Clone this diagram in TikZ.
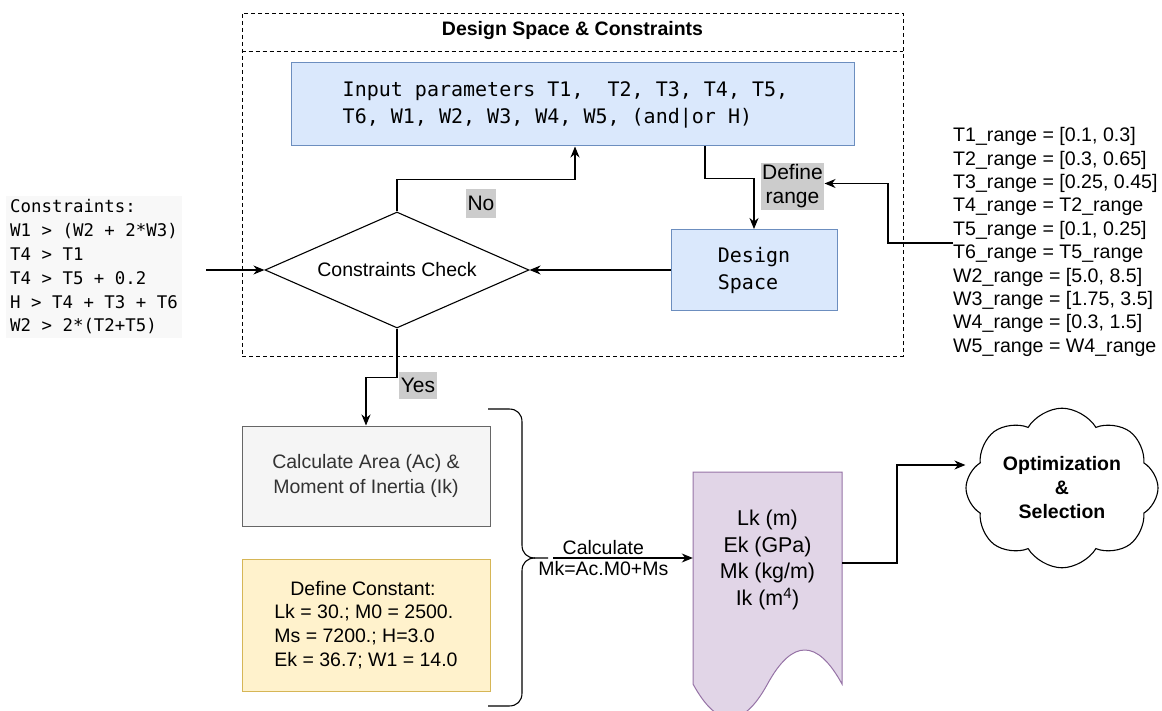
\documentclass[tikz,border=0pt]{standalone}
\usepackage{fontspec}
\setmainfont{Liberation Sans}
\setmonofont{DejaVu Sans Mono}
\usetikzlibrary{arrows.meta,shapes.geometric,shapes.symbols}

\newcommand\setfs[2]{\fontsize{#1}{#2}\selectfont}

\definecolor{blueFill}{HTML}{DAE8FC}
\definecolor{blueLine}{HTML}{6C8EBF}
\definecolor{grayFill}{HTML}{F5F5F5}
\definecolor{grayLine}{HTML}{666666}
\definecolor{grayText}{HTML}{333333}
\definecolor{yellowFill}{HTML}{FFF2CC}
\definecolor{yellowLine}{HTML}{D6B656}
\definecolor{purpleFill}{HTML}{E1D5E7}
\definecolor{purpleLine}{HTML}{9673A6}
\definecolor{labelBg}{HTML}{CCCCCC}
\definecolor{codeBg}{HTML}{F8F8F8}

\tikzset{
  sans/.style={font=\setfs{19.5}{24}},
  conn/.style={draw, line width=1.1pt},
  arr/.style={conn, -{Stealth[length=11pt,width=9pt,inset=3.5pt]}},
  bluebox/.style={draw=blueLine, fill=blueFill, line width=1pt, inner sep=0pt,
                  font=\ttfamily\setfs{20}{27}, align=left},
  lab/.style={fill=labelBg, inner xsep=1.5pt, inner ysep=2pt,
              font=\setfs{21}{24}, align=center},
  dashbox/.style={draw, dash pattern=on 4pt off 3pt, line width=0.9pt},
}

\begin{document}
\begin{tikzpicture}[x=1pt, y=-1pt]
\useasboundingbox (0,0) rectangle (1162,711);

% container for the design space
\node[dashbox, minimum width=661pt, minimum height=343pt, inner sep=0pt] (dsc) at (572.5,184.5) {};
\draw[dashbox] ([yshift=-39pt]dsc.north west) -- ([yshift=-39pt]dsc.north east);
\node[font=\bfseries\setfs{19.5}{24}] (title) at (572.5,31) {Design Space \& Constraints};

% input parameters and design space
\node[bluebox, minimum width=563pt, minimum height=83pt] (inp) at (572.5,104.5)
  {Input parameters T1,\ \ T2, T3, T4, T5,\hspace*{14pt}\\T6, W1, W2, W3, W4, W5, (and|or H)};
\node[bluebox, minimum width=166pt, minimum height=81pt] (ds) at (754,270)
  {Design\\Space};

% constraints check
\node[diamond, draw, line width=1.1pt, minimum width=264pt, minimum height=116pt,
      aspect=2.28, inner sep=0pt, sans] (dia) at (397,270) {Constraints Check};

% constraint list
\node[fill=codeBg, inner sep=4pt, align=left, anchor=west,
      font=\ttfamily\setfs{17.4}{23.8}] (cons) at (6,267)
  {Constraints:\\W1 > (W2 + 2*W3)\\T4 > T1\\T4 > T5 + 0.2\\H > T4 + T3 + T6\\W2 > 2*(T2+T5)};
\coordinate (consOut) at (206,270);

% parameter ranges
\node[font=\setfs{19.6}{23.4}, align=left, anchor=west, inner sep=0pt] (rng) at (953,242)
  {T1\_range = [0.1, 0.3]\\T2\_range = [0.3, 0.65]\\T3\_range = [0.25, 0.45]\\
   T4\_range = T2\_range\\T5\_range = [0.1, 0.25]\\T6\_range = T5\_range\\
   W2\_range = [5.0, 8.5]\\W3\_range = [1.75, 3.5]\\W4\_range = [0.3, 1.5]\\
   W5\_range = W4\_range};

\node[lab] (dr) at (792.5,186.5) {Define\\range};

% lower boxes
\node[draw=grayLine, fill=grayFill, line width=1pt, minimum width=248pt, minimum height=100pt,
      text=grayText, align=center, font=\setfs{19.5}{25}] (calc) at (366,476)
  {Calculate Area (Ac) \&\\Moment of Inertia (Ik)};
\node[draw=yellowLine, fill=yellowFill, line width=1pt, minimum width=248pt, minimum height=132pt,
      align=left, font=\setfs{19.5}{23.7}] (const) at (366,625)
  {\hspace*{16pt}Define Constant:\\Lk = 30.; M0 = 2500.\\Ms = 7200.; H=3.0\\Ek = 36.7; W1 = 14.0};

% curly bracket grouping the two boxes
\draw[line width=1.1pt] (488,409) -- (509,409) .. controls (517,409) and (522,414) .. (522,422)
  -- (522,545) .. controls (522,553) and (527,558) .. (535,558) -- (548,558);
\draw[line width=1.1pt] (535,558) .. controls (527,558) and (522,563) .. (522,571)
  -- (522,693) .. controls (522,701) and (517,706) .. (509,706) -- (488,706);
\coordinate (braceTip) at (553,558);

% result document
\draw[draw=purpleLine, fill=purpleFill, line width=1pt]
  (693,472) -- (842,472) -- (842,684)
  .. controls (817.17,638.67) and (792.33,638.67) .. (767.5,684)
  .. controls (742.67,729.33) and (717.83,729.33) .. (693,684) -- cycle;
\node[minimum width=149pt, inner sep=0pt, align=center,
      font=\setfs{21.4}{26.7}] (doc) at (767.5,560)
  {Lk (m)\\Ek (GPa)\\Mk (kg/m)\\Ik (m\textsuperscript{4})};
\coordinate (docOut) at (842,563);

% optimization cloud
\node[cloud, draw, line width=1.1pt, cloud puffs=8, cloud puff arc=118, aspect=1.25,
      minimum width=192pt, minimum height=155pt, inner sep=0pt, align=center,
      font=\bfseries\setfs{19.5}{24}] (cloud) at (1062,488)
  {Optimization\\\&\\Selection};

% connectors
\draw[arr] (consOut) -- (dia.west);
\draw[arr] (ds.west) -- (dia.east);
\draw[arr] (dia.north) -- ++(0,-32) -| ([xshift=2.5pt]inp.south);
\node[lab, minimum height=29pt] (no) at (481,203.5) {No};
\draw[arr] ([xshift=132.5pt]inp.south) -- ++(0,32) -| (ds.north);
\draw[arr] ([yshift=-1pt]rng.west) -- ++(-65,0) |- ([yshift=3pt]dr.east);
\draw[arr] (dia.south) -- ++(0,49) -| (calc.north);
\node[lab, minimum height=27pt] (yes) at (418,385.5) {Yes};
\draw[arr] (braceTip) -- (braceTip -| doc.west)
  node[pos=0.36, above=-1pt, sans] {Calculate}
  node[pos=0.36, below=-1pt, sans] {Mk=Ac.M0+Ms};
\draw[arr] (docOut) -- ++(55,0) |- ([yshift=23pt]cloud.west);
\end{tikzpicture}
\end{document}
